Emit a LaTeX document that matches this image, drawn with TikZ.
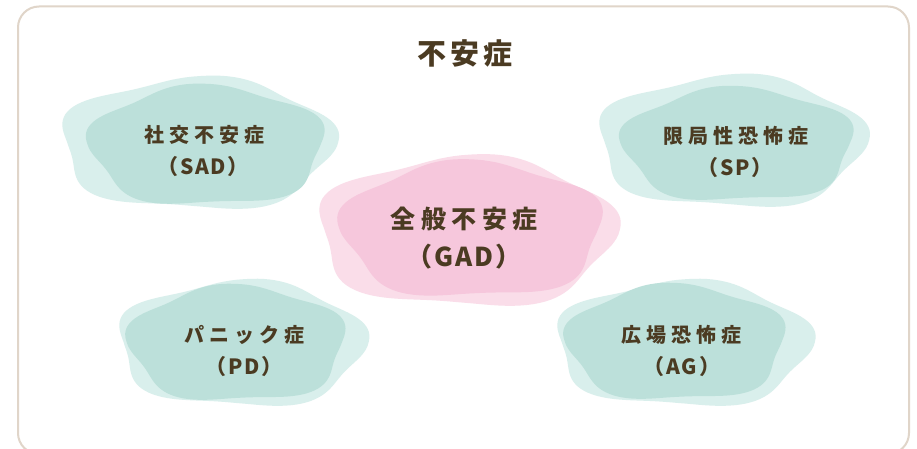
\documentclass[tikz,border=0pt]{standalone}
\usepackage{fontspec}
\newfontfamily\jpsp{Noto Sans CJK JP}[LetterSpace=25]
\newfontfamily\jpspb{Noto Sans CJK JP}[LetterSpace=22]
\newfontfamily\jpsptitle{Noto Sans CJK JP}[LetterSpace=15]
\newfontfamily\jplat{Noto Sans CJK JP}[LetterSpace=8]
\definecolor{framec}{HTML}{E0D5C9}
\definecolor{tealdark}{HTML}{BCE0DA}
\definecolor{teallight}{HTML}{D9EFEC}
\definecolor{pinkdark}{HTML}{F6C7DC}
\definecolor{pinklight}{HTML}{FADDE9}
\definecolor{txt}{HTML}{4B3B22}
% blob: colour, cx, cy, W, H, phase
\newcommand\myblob[6]{%
  \fill[#1] plot[domain=1.25:358.75, samples=144, variable=\t]
    ({#2 + #4*(1+0.06*cos(5*(\t-90+#6)))*sign(cos(\t))*pow(abs(cos(\t)),0.92)},
     {#3 - #5*(1+0.06*cos(5*(\t-90+#6)))*sign(sin(\t))*pow(abs(sin(\t)),0.92)}) -- cycle;}
\tikzset{
  lab/.style={anchor=base, inner sep=0pt, text=txt, font=\jpsp\bfseries\fontsize{20}{22}\selectfont},
  abbr/.style={anchor=base, inner sep=0pt, text=txt, font=\jplat\bfseries\fontsize{21}{23}\selectfont},
  labbig/.style={anchor=base, inner sep=0pt, text=txt, font=\jpspb\bfseries\fontsize{25}{27}\selectfont},
  abbrbig/.style={anchor=base, inner sep=0pt, text=txt, font=\jplat\bfseries\fontsize{26}{28}\selectfont},
  titlef/.style={anchor=base, inner sep=0pt, text=txt, font=\jpsptitle\bfseries\fontsize{29}{31}\selectfont},
}
\begin{document}
\begin{tikzpicture}[x=1pt, y=-1pt]
\useasboundingbox (0,0) rectangle (917,449);
\clip (0,0) rectangle (917,449);
\fill[white] (0,0) rectangle (917,449);
\draw[framec, line width=2pt, rounded corners=21pt] (18,6.5) rectangle (909,454);

% SAD
\myblob{teallight}{197}{144}{135}{65}{9}
\myblob{tealdark}{207}{146}{116}{59}{-5}
% SP
\myblob{teallight}{731}{142}{132}{65}{9}
\myblob{tealdark}{738}{145}{114}{56}{-5}
% PD
\myblob{teallight}{241}{344}{122}{62}{9}
\myblob{tealdark}{237}{344}{107}{57}{-5}
% AG
\myblob{teallight}{683}{344}{126}{62}{9}
\myblob{tealdark}{676}{343}{108}{57}{-5}
% GAD
\myblob{pinklight}{466}{232}{147}{74}{9}
\myblob{pinkdark}{472}{230}{129}{67}{-5}

\node[titlef] (title) at (465,64.5) {不安症};
\node[lab] (sad) at (204,142.5) {社交不安症};
\node[abbr] (sadab) at (203,174.5) {（SAD）};
\node[lab] (sp) at (736,143.5) {限局性恐怖症};
\node[abbr] (spab) at (735,175.5) {（SP）};
\node[labbig] (gad) at (464,228.5) {全般不安症};
\node[abbrbig] (gadab) at (464,266.5) {（GAD）};
\node[lab] (pd) at (244,342.5) {パニック症};
\node[abbr] (pdab) at (244,374.5) {（PD）};
\node[lab] (ag) at (681,342.5) {広場恐怖症};
\node[abbr] (agab) at (682,374.5) {（AG）};
\end{tikzpicture}
\end{document}
